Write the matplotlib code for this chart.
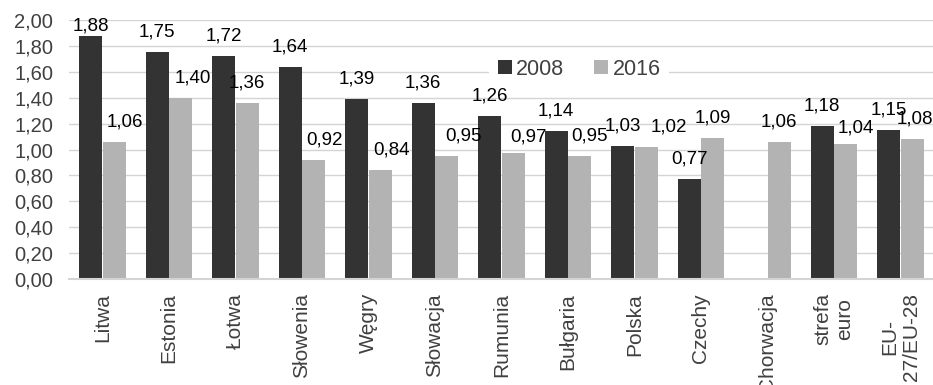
import matplotlib
matplotlib.use("Agg")
import matplotlib.pyplot as plt
import numpy as np

plt.rcParams['font.family'] = ['Liberation Sans', 'DejaVu Sans']

categories = ["Litwa", "Estonia", "Łotwa", "Słowenia", "Węgry", "Słowacja",
              "Rumunia", "Bułgaria", "Polska", "Czechy", "Chorwacja",
              "strefa\neuro", "EU-\n27/EU-28"]
values_2008 = [1.88, 1.75, 1.72, 1.64, 1.39, 1.36, 1.26, 1.14, 1.03, 0.77,
               np.nan, 1.18, 1.15]
values_2016 = [1.06, 1.40, 1.36, 0.92, 0.84, 0.95, 0.97, 0.95, 1.02, 1.09,
               1.06, 1.04, 1.08]
series_names = ["2008", "2016"]
yticks = [0.0, 0.2, 0.4, 0.6, 0.8, 1.0, 1.2, 1.4, 1.6, 1.8, 2.0]

# manual nudges of the value labels (points): (dx, dy) relative to default
nudge_2008 = {0: (0, -7.5)}
nudge_2016 = {0: (8, 0), 1: (8.5, 0), 3: (8, 0), 4: (8, 0), 5: (12, 0),
              6: (11, -2.5), 7: (7, 0), 8: (16, 0), 11: (7, -3), 12: (2, 0)}

dark = "#333333"
light = "#b3b3b3"
grid = "#d4d4d4"

fig = plt.figure(figsize=(9.33, 3.85), dpi=100)
ax = fig.add_axes([0.0742, 0.2753, 0.9266, 0.6727])

x = np.arange(len(categories))
w = 0.35
off = 0.177
ax.bar(x - off, values_2008, w, color=dark, label=series_names[0], zorder=2)
ax.bar(x + off, values_2016, w, color=light, label=series_names[1], zorder=2)

base_dy = 11.2
def put_labels(vals, shift, nudges):
    for i, v in enumerate(vals):
        if np.isnan(v):
            continue
        dx, dy = nudges.get(i, (0, 0))
        ax.annotate(f"{v:.2f}".replace(".", ","), (i + shift, v),
                    xytext=(dx, base_dy + dy), textcoords="offset points",
                    ha="center", va="baseline", fontsize=13.5, color="black",
                    annotation_clip=False, zorder=4)

put_labels(values_2008, -off, nudge_2008)
put_labels(values_2016, off, nudge_2016)

ax.set_xlim(-0.5, len(categories) - 0.5)
ax.set_ylim(0, 2.0)
ax.set_yticks(yticks)
ax.set_yticklabels([f"{t:.2f}".replace(".", ",") for t in yticks],
                   fontsize=14.5, color="#404040")
ax.set_xticks(x)
ax.set_xticklabels(categories, rotation=90, fontsize=15, color="#404040",
                   multialignment="center")
ax.tick_params(axis="y", length=0, pad=11.5)
ax.tick_params(axis="x", length=0, pad=10)

ax.yaxis.grid(True, color=grid, linewidth=1.0, zorder=0)
ax.set_axisbelow(True)
for s in ["left", "right", "top"]:
    ax.spines[s].set_visible(False)
ax.spines["bottom"].set_color(grid)
ax.spines["bottom"].set_linewidth(1.5)
ax.spines["bottom"].set_zorder(3)

leg = ax.legend(loc="center", bbox_to_anchor=(0.59, 0.809), ncol=2,
                frameon=True, fontsize=15.5, handlelength=0.65,
                handleheight=0.62, handletextpad=0.2, columnspacing=1.4,
                borderpad=0.4, borderaxespad=0)
leg.get_frame().set_facecolor("white")
leg.get_frame().set_edgecolor("none")
leg.get_frame().set_alpha(1.0)
leg.get_frame().set_boxstyle("square", pad=0)
for t in leg.get_texts():
    t.set_color("#404040")
leg.set_zorder(3)

fig.savefig("out.png", dpi=100)
